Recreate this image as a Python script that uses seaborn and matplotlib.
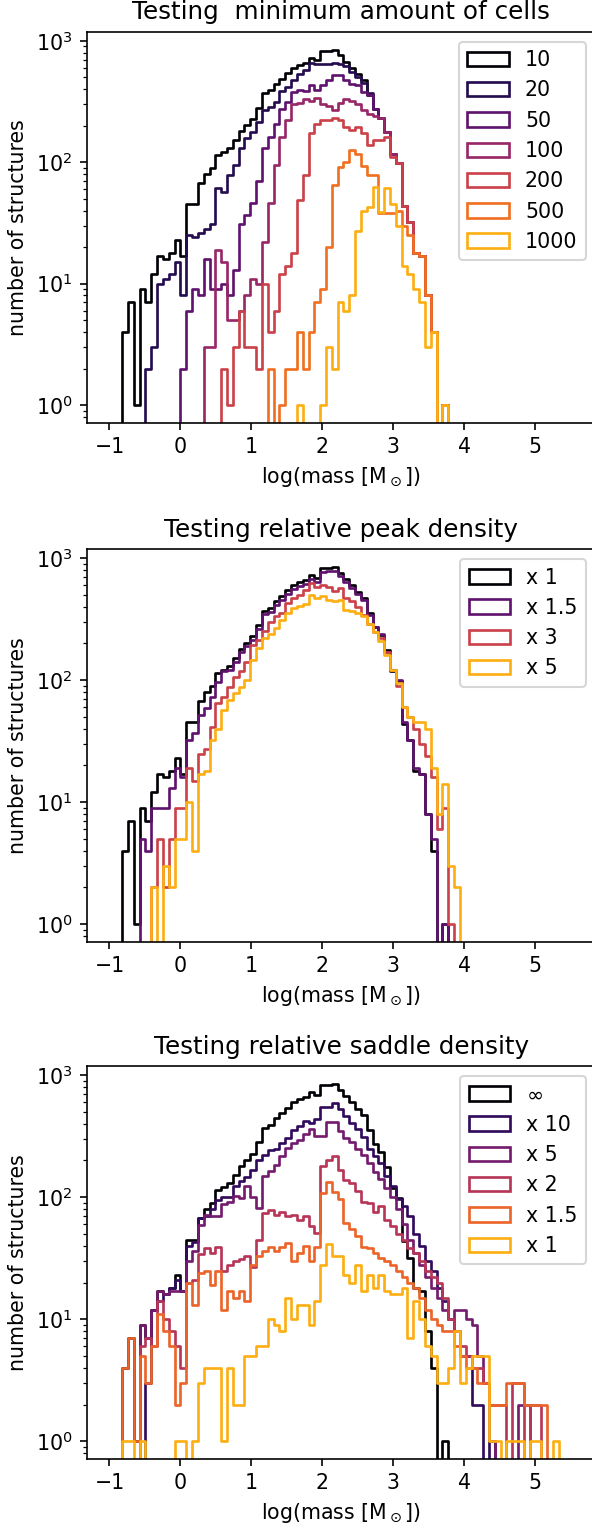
import numpy as np
import matplotlib
matplotlib.use("Agg")
import matplotlib.pyplot as plt
import seaborn as sns
from matplotlib.patches import Patch

# ---------------- data (counts per log-mass bin) ----------------
BIN_WIDTH = 0.0821          # dex
I_MIN, I_MAX = -11, 67      # bin indices covered (edge_i = i * BIN_WIDTH)

# each series: (first bin index, counts)
BLACK = (-10, [4, 7, 1, 9, 7, 12, 17, 16, 18, 23,
               17, 45, 45, 68, 80, 89, 115, 121, 131, 152,
               181, 203, 228, 282, 372, 392, 445, 489, 543, 602,
               637, 657, 728, 691, 824, 824, 847, 760, 670, 602,
               531, 473, 356, 273, 233, 178, 118, 98, 44, 32,
               18, 17, 8, 4, 0, 1])

# panel 1 : minimum amount of cells
P1_LABELS = ["10", "20", "50", "100", "200", "500", "1000"]
P1_C20 = (-6, [2, 3, 10, 11, 12, 15,
               8, 25, 24, 26, 28, 31, 61, 57, 78, 95,
               132, 157, 177, 215, 268, 285, 314, 387, 417, 473,
               537, 580, 657, 649, 649, 649, 657, 640, 617, 554,
               500, 450, 370, 273, 233, 178, 118, 98, 44, 32,
               18, 17, 8, 4, 0, 1])
P1_C50 = (0, [2, 6, 9, 8, 16, 9, 9, 10, 8, 13,
              31, 37, 46, 70, 132, 160, 205, 277, 314, 379,
              392, 388, 431, 392, 431, 473, 520, 520, 473, 445,
              431, 380, 356, 273, 233, 178, 118, 98, 44, 32,
              18, 17, 8, 4, 0, 1])
P1_C100 = (4, [3, 3, 19, 15, 5, 5, 6, 8, 11, 10,
               22, 46, 95, 162, 222, 300,
               310, 330, 320, 340, 300, 290, 270, 310, 330, 320,
               300, 270, 250, 240, 233, 178, 118, 98, 44, 32,
               18, 17, 8, 4, 0, 1])
P1_C200 = (7, [2, 1, 3, 6, 3, 3, 2, 10, 4, 6, 12, 14, 18,
               49, 78, 173, 206, 222, 222, 233, 222, 195, 184,
               195, 173, 138, 152, 152, 162, 111, 98, 44, 32,
               18, 17, 8, 4, 0, 1])
P1_C500 = (15, [2, 0, 1, 2, 2,
                4, 2, 4, 7, 9, 20, 65, 92, 100, 126,
                118, 93, 78, 78, 38, 38, 38, 40, 30, 25,
                18, 17, 8, 4, 0, 1])
P1_C1000 = (20, [1, 0, 0, 0, 1, 3, 2, 7, 6, 8,
                 27, 40, 43, 63, 39, 61, 45, 30, 14, 12,
                 9, 7, 3, 4, 0, 1])

# panel 2 : relative peak density
P2_LABELS = ["x 1", "x 1.5", "x 3", "x 5"]
P2_X15 = (-7, [5, 4, 9, 9, 9, 13, 19,
               16, 32, 37, 52, 59, 73, 97, 118, 122, 142,
               170, 190, 213, 262, 346, 365, 415, 455, 505, 560,
               592, 611, 677, 643, 766, 782, 782, 720, 640, 570,
               505, 450, 340, 270, 240, 170, 120, 100, 45, 32,
               19, 17, 8, 5, 0, 1])
P2_X3 = (-5, [2, 5, 2, 5, 9,
              9, 19, 15, 25, 27, 41, 65, 73, 87, 107,
              119, 142, 195, 214, 251, 300, 333, 356, 430, 472,
              503, 553, 628, 578, 608, 578, 542, 571, 472, 443,
              395, 344, 289, 250, 220, 170, 120, 90, 60, 50,
              40, 30, 24, 16, 6, 9, 1])
P2_X5 = (-5, [2, 0, 3, 2, 5,
              5, 10, 4, 17, 18, 32, 40, 57, 69, 78,
              87, 101, 147, 183, 221, 239, 268, 313, 356, 391,
              403, 422, 496, 472, 487, 458, 443, 458, 379, 366,
              356, 333, 289, 250, 210, 160, 120, 95, 60, 50,
              45, 45, 40, 19, 8, 14, 3, 2])

# panel 3 : relative saddle density
P3_LABELS = [r"$\infty$", "x 10", "x 5", "x 2", "x 1.5", "x 1"]
P3_X10 = (-6, [3, 12, 14, 16, 18, 21,
               17, 40, 43, 68, 70, 80, 95, 101, 101, 124,
               137, 147, 168, 203, 223, 245, 246, 279, 306, 355,
               383, 421, 408, 434, 551, 551, 587, 525, 462, 408,
               359, 312, 246, 219, 191, 149, 124, 96, 84, 70,
               50, 40, 30, 25, 18, 14, 10, 8, 5, 5,
               2, 2, 0, 1])
P3_X5 = (-7, [9, 7, 12, 17, 16, 17, 17,
              17, 30, 36, 59, 72, 70, 70, 88, 92, 103,
              98, 123, 101, 82, 148, 163, 182, 217, 254, 279,
              297, 327, 359, 316, 316, 412, 412, 348, 307, 282,
              250, 220, 190, 160, 140, 120, 100, 80, 60, 45,
              35, 28, 22, 18, 15, 12, 10, 12, 12, 10,
              9, 5, 3, 1, 0, 0, 0, 0, 2, 2])
P3_X2 = (-7, [6, 7, 6, 14, 10, 8, 6,
              4, 20, 21, 34, 38, 35, 39, 25, 28, 30,
              31, 33, 27, 45, 74, 78, 72, 76, 70, 72,
              65, 70, 58, 51, 179, 203, 217, 168, 139, 131,
              112, 92, 90, 76, 84, 65, 58, 50, 45, 38,
              35, 30, 25, 22, 20, 15, 10, 8, 6, 5,
              4, 4, 3, 2, 2, 2, 0, 3, 3, 0,
              2, 2])
P3_X15 = (-10, [4, 7, 1, 5, 3, 6, 11, 8, 6, 2,
                3, 20, 13, 24, 25, 19, 25, 12, 17, 15,
                17, 14, 28, 33, 36, 39, 36, 39, 42, 30,
                35, 40, 30, 39, 109, 132, 110, 97, 61, 55,
                48, 39, 38, 35, 32, 30, 28, 25, 22, 20,
                18, 15, 12, 10, 9, 8, 8, 6, 5, 4,
                4, 3, 3, 2, 2, 2, 3, 3, 3, 2,
                2, 2, 2])
P3_X1 = (-10, [1, 1, 0, 1, 0, 0, 0, 0, 0, 1,
               1, 0, 1, 3, 4, 4, 4, 1, 4, 2,
               2, 5, 5, 6, 6, 10, 9, 8, 15, 10,
               13, 13, 9, 14, 28, 41, 33, 33, 23, 20,
               28, 17, 23, 18, 23, 17, 16, 16, 18, 7,
               14, 10, 6, 5, 3, 3, 4, 8, 3, 4,
               5, 5, 5, 1, 1, 0, 1, 1, 1, 0,
               1, 1, 0, 0, 1])

TITLES = ["Testing  minimum amount of cells",
          "Testing relative peak density",
          "Testing relative saddle density"]

# ---------------- helpers ----------------
idx = np.arange(I_MIN, I_MAX)
edges = np.append(idx, I_MAX) * BIN_WIDTH
centers = (idx + 0.5) * BIN_WIDTH


def samples(series):
    start, vals = series
    cnt = np.zeros(len(idx), dtype=int)
    cnt[start - I_MIN:start - I_MIN + len(vals)] = vals
    return np.repeat(centers, cnt)


panels = [
    (TITLES[0], P1_LABELS, [BLACK, P1_C20, P1_C50, P1_C100, P1_C200, P1_C500, P1_C1000]),
    (TITLES[1], P2_LABELS, [BLACK, P2_X15, P2_X3, P2_X5]),
    (TITLES[2], P3_LABELS, [BLACK, P3_X10, P3_X5, P3_X2, P3_X15, P3_X1]),
]

DPI = 148
W, H = 592.0, 1528.0
fig = plt.figure(figsize=(W / DPI, H / DPI), dpi=DPI)
ax_boxes = [(31.7, 422.7), (549.0, 941.7), (1066.0, 1459.0)]
XLIM = (-1.32, 5.86)
x_left_px, x_right_px = 86.8, 596.0
LW = 1.3

for (title, labels, series), (top, bot) in zip(panels, ax_boxes):
    ax = fig.add_axes([x_left_px / W, 1 - bot / H,
                       (x_right_px - x_left_px) / W, (bot - top) / H])
    n = len(series)
    cols = [matplotlib.colormaps["inferno"](v) for v in np.linspace(0, 0.82, n)]
    handles = []
    for lab, s, c in zip(labels, series, cols):
        sns.histplot(x=samples(s), bins=edges.tolist(), element="step",
                     fill=False, color=c, linewidth=LW, ax=ax)
        handles.append(Patch(facecolor="none", edgecolor=c, linewidth=LW, label=lab))
    ax.set_yscale("log")
    ax.set_xlim(*XLIM)
    ax.set_ylim(10 ** -0.145, 10 ** 3.075)
    ax.set_xticks([-1, 0, 1, 2, 3, 4, 5])
    ax.set_title(title, fontsize=12)
    ax.set_xlabel(r"log(mass [M$_\odot$])", fontsize=10)
    ax.set_ylabel("number of structures", fontsize=10)
    ax.tick_params(labelsize=10)
    ax.legend(handles=handles, loc="upper right", fontsize=10)

fig.savefig("out.png", dpi=DPI)
